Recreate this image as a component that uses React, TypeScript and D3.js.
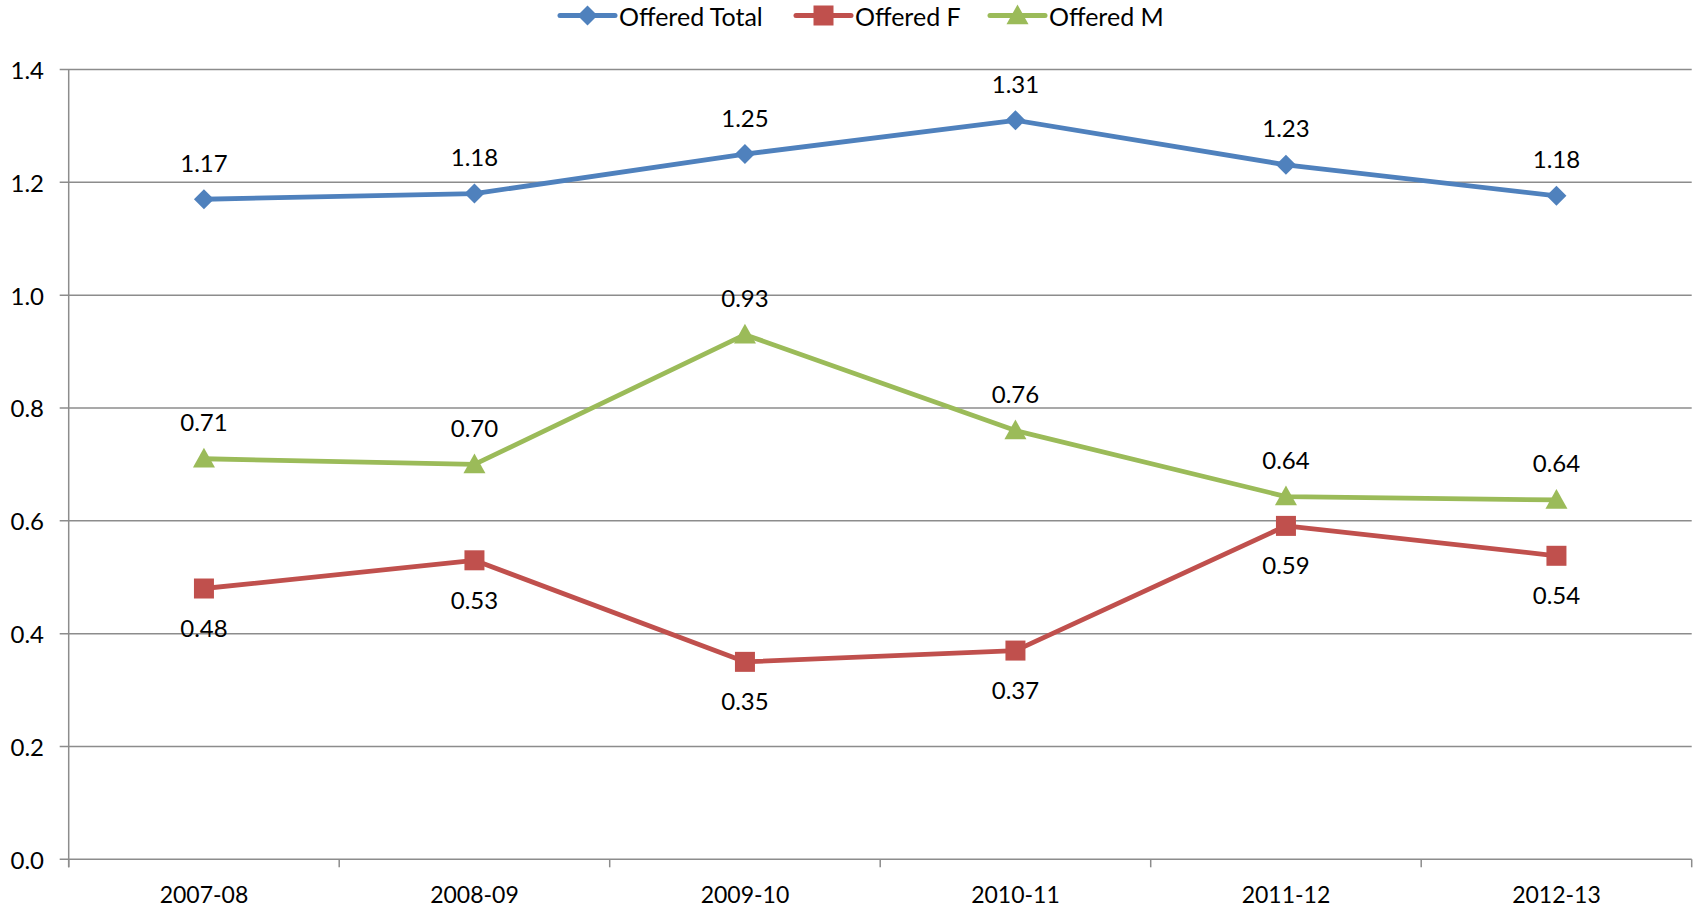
import React from "react";
import * as d3 from "d3";

const categories = ["2007-08", "2008-09", "2009-10", "2010-11", "2011-12", "2012-13"];
const offeredTotal = [1.17, 1.18, 1.25, 1.31, 1.231, 1.176];
const offeredF = [0.48, 0.53, 0.35, 0.37, 0.591, 0.538];
const offeredM = [0.71, 0.7, 0.93, 0.76, 0.643, 0.637];
const yTicks = [0, 0.2, 0.4, 0.6, 0.8, 1.0, 1.2, 1.4];

const W = 1700;
const H = 909;
const FONT = "Lato, 'Open Sans', sans-serif";

type Series = { name: string; values: number[]; color: string; marker: string; labelPos: "above" | "below" };

const series: Series[] = [
  { name: "Offered Total", values: offeredTotal, color: "#4F81BD", marker: "diamond", labelPos: "above" },
  { name: "Offered F", values: offeredF, color: "#C0504D", marker: "square", labelPos: "below" },
  { name: "Offered M", values: offeredM, color: "#9BBB59", marker: "triangle", labelPos: "above" },
];

function Marker({ type, x, y, color }: { type: string; x: number; y: number; color: string }) {
  if (type === "diamond") {
    const r = 10;
    return <path d={`M${x},${y - r}L${x + r},${y}L${x},${y + r}L${x - r},${y}Z`} fill={color} />;
  }
  if (type === "square") {
    const s = 10;
    return <rect x={x - s} y={y - s} width={2 * s} height={2 * s} fill={color} />;
  }
  const s = 11;
  return <path d={`M${x},${y - s}L${x + s},${y + s * 0.8}L${x - s},${y + s * 0.8}Z`} fill={color} />;
}

export default function App() {
  const left = 68.7;
  const right = 1691.7;
  const top = 69.5;
  const bottom = 859.3;

  const x = d3.scaleBand<string>().domain(categories).range([left, right]);
  const y = d3.scaleLinear().domain([0, 1.4]).range([bottom, top]);
  const cx = (c: string) => (x(c) as number) + x.bandwidth() / 2;

  const line = d3
    .line<number>()
    .x((_, i) => cx(categories[i]))
    .y((d) => y(d));

  const legendItems = [
    { s: series[0], lx: 560 },
    { s: series[1], lx: 796 },
    { s: series[2], lx: 990 },
  ];

  return (
    <svg width={W} height={H} style={{ position: "absolute", left: 0, top: 0, background: "#fff" }} fontFamily={FONT}>
      <rect width={W} height={H} fill="#fff" />
      {yTicks.map((t) => (
        <g key={t}>
          <line x1={left - 9} x2={right} y1={y(t)} y2={y(t)} stroke="#8c8c8c" strokeWidth={1.5} />
          <text x={44} y={y(t)} textAnchor="end" dominantBaseline="central" fontSize={24} fill="#000">
            {t.toFixed(1)}
          </text>
        </g>
      ))}
      <line x1={left} x2={left} y1={top} y2={bottom + 8} stroke="#8c8c8c" strokeWidth={1.5} />
      {d3.range(categories.length + 1).map((i) => {
        const xx = left + i * x.bandwidth();
        return <line key={i} x1={xx} x2={xx} y1={bottom} y2={bottom + 8} stroke="#8c8c8c" strokeWidth={1.5} />;
      })}
      {categories.map((c) => (
        <text key={c} x={cx(c)} y={894} textAnchor="middle" dominantBaseline="central" fontSize={23} fill="#000">
          {c}
        </text>
      ))}
      {series.map((s) => (
        <g key={s.name}>
          <path d={line(s.values) || ""} fill="none" stroke={s.color} strokeWidth={4.8} strokeLinejoin="round" />
          {s.values.map((v, i) => (
            <Marker key={i} type={s.marker} x={cx(categories[i])} y={y(v)} color={s.color} />
          ))}
          {s.values.map((v, i) => (
            <text
              key={"l" + i}
              x={cx(categories[i])}
              y={y(v) + (s.labelPos === "above" ? -37 : 39)}
              textAnchor="middle"
              dominantBaseline="central"
              fontSize={24}
              fill="#000"
            >
              {v.toFixed(2)}
            </text>
          ))}
        </g>
      ))}
      {legendItems.map(({ s, lx }) => (
        <g key={s.name}>
          <line x1={lx} x2={lx + 55} y1={15.5} y2={15.5} stroke={s.color} strokeWidth={5} strokeLinecap="round" />
          <Marker type={s.marker} x={lx + 27.5} y={15.5} color={s.color} />
          <text x={lx + 59} y={15.5} dominantBaseline="central" fontSize={25} fill="#000">
            {s.name}
          </text>
        </g>
      ))}
    </svg>
  );
}
